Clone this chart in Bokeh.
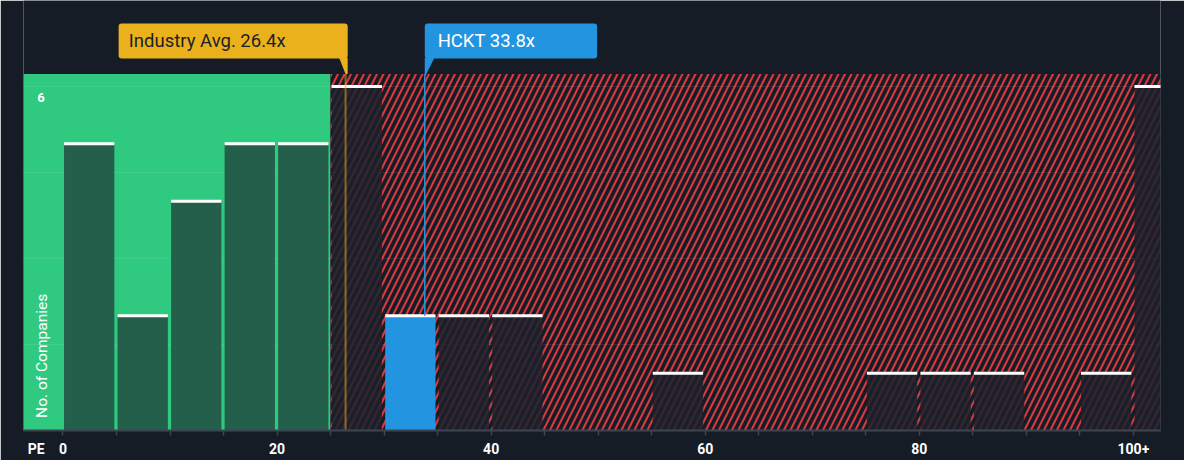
from bokeh.plotting import figure
from bokeh.models import FixedTicker, LinearAxis, Range1d
from bokeh.core.properties import value
from bokeh.embed import file_html
from bokeh.resources import INLINE

# ---- data ----
bin_left = [0, 5, 10, 15, 20, 25, 30, 35, 40, 45, 50, 55, 60, 65, 70, 75, 80, 85, 90, 95, 100]
counts = [5, 2, 4, 5, 5, 6, 2, 2, 2, 0, 0, 1, 0, 0, 0, 1, 1, 1, 0, 1, 6]
bin_width = 5
industry_avg = 26.4
company = "HCKT"
company_pe = 33.8
fair_limit = 25
tick_values = list(range(0, 105, 5))
label_values = [-2.5, 0, 20, 40, 60, 80, 100]
tick_labels = {-2.5: "PE", 0: "0", 20: "20", 40: "40", 60: "60", 80: "80", 100: "100+"}
y_max_label = 6
grid_values = [1.5, 3, 4.5, 6]

BG = "#161c26"
GREEN = "#2fca7f"
RED = "#d6393e"
BLUE = "#2394df"
YELLOW = "#ebb11c"
FONT = "Roboto"

x0, x1 = -3.687, 102.53
y0, y1 = 0, 7.50
region_top = 6.22

p = figure(frame_width=1137, frame_height=430,
           x_range=Range1d(x0, x1), y_range=Range1d(y0, y1),
           x_axis_location=None, y_axis_location=None,
           output_backend="svg", toolbar_location=None,
           min_border_left=23, min_border_right=24, min_border_top=0, min_border_bottom=30,
           background_fill_color=BG, border_fill_color=BG, outline_line_color=None)
p.grid.visible = False

# regions
p.quad(left=[x0], right=[fair_limit], bottom=[0], top=[region_top], fill_color=GREEN, line_color=None)
p.quad(left=[fair_limit], right=[x1], bottom=[0], top=[region_top], fill_color=BG, line_color=None,
       hatch_pattern="/", hatch_color=RED, hatch_weight=2.1, hatch_scale=13)

# grid lines
for g in grid_values:
    p.segment(x0=[x0], x1=[x1], y0=[g], y1=[g], line_color="white", line_alpha=0.09, line_width=1)

# bars
green_l, green_r, green_t = [], [], []
dark_l, dark_r, dark_t = [], [], []
blue_l, blue_r, blue_t = [], [], []
for b, c in zip(bin_left, counts):
    if c == 0:
        continue
    l, r = b + 0.1, b + bin_width - 0.2
    if b + bin_width <= fair_limit:
        green_l.append(l); green_r.append(r); green_t.append(c)
    elif b <= company_pe < b + bin_width:
        blue_l.append(l); blue_r.append(r); blue_t.append(c)
    else:
        dark_l.append(l); dark_r.append(r); dark_t.append(c)

p.quad(left=green_l, right=green_r, bottom=0, top=green_t, fill_color="#235f4a", line_color=None)
p.quad(left=dark_l, right=dark_r, bottom=0, top=dark_t, fill_color="#1c212c", fill_alpha=0.84, line_color=None)
p.quad(left=blue_l, right=blue_r, bottom=0, top=blue_t, fill_color=BLUE, line_color=None)
all_l = green_l + dark_l + blue_l
all_r = green_r + dark_r + blue_r
all_t = green_t + dark_t + blue_t
p.segment(x0=all_l, x1=all_r, y0=all_t, y1=all_t, line_color="white", line_width=3)

# marker lines
p.segment(x0=[industry_avg], x1=[industry_avg], y0=[0], y1=[region_top], line_color=YELLOW, line_alpha=0.5, line_width=2)
p.segment(x0=[company_pe], x1=[company_pe], y0=[counts[bin_left.index(30)]], y1=[region_top],
          line_color=BLUE, line_width=1.5)

# callouts
box_b, box_t = 6.49, 7.10
ind_w = 21.4
p.quad(left=[industry_avg + 0.2 - ind_w], right=[industry_avg + 0.2], bottom=[box_b], top=[box_t],
       fill_color=YELLOW, line_color=None, border_radius=3)
p.patch(x=[industry_avg - 0.6, industry_avg + 0.2, industry_avg + 0.2, industry_avg],
        y=[box_b + 0.01, box_b + 0.01, region_top, region_top], fill_color=YELLOW, line_color=None)
p.text(x=[industry_avg + 0.2 - ind_w + 0.95], y=[(box_b + box_t) / 2], text=[f"Industry Avg. {industry_avg}x"],
       text_font=value(FONT), text_font_size="18.5px", text_color="#1b1f27", text_baseline="middle")

hc_w = 16.1
p.quad(left=[company_pe], right=[company_pe + hc_w], bottom=[box_b], top=[box_t],
       fill_color=BLUE, line_color=None, border_radius=3)
p.patch(x=[company_pe, company_pe + 0.9, company_pe + 0.1, company_pe],
        y=[box_b + 0.01, box_b + 0.01, region_top - 0.02, region_top - 0.02], fill_color=BLUE, line_color=None)
p.text(x=[company_pe + 1.2], y=[(box_b + box_t) / 2], text=[f"{company} {company_pe}x"],
       text_font=value(FONT), text_font_size="18.5px", text_color="white", text_baseline="middle")

# y labels
p.text(x=[-2.40], y=[5.81], text=[str(y_max_label)], text_font=value(FONT),
       text_font_size="13px", text_font_style="bold", text_color="white", text_baseline="middle")
p.text(x=[-1.94], y=[0.22], text=["No. of Companies"], angle=1.5708, text_font=value(FONT),
       text_font_size="15.5px", text_color="white", text_baseline="middle", text_align="left")

# x axis: tick marks + line
ax = LinearAxis(ticker=FixedTicker(ticks=tick_values))
ax.major_label_overrides = {t: "" for t in tick_values}
ax.major_label_text_font_size = "0px"
ax.major_label_standoff = 0
ax.axis_line_color = "#3e4552"
ax.axis_line_width = 2
ax.major_tick_line_color = "#3e4552"
ax.major_tick_line_width = 1.5
ax.major_tick_out = 5
ax.major_tick_in = 0
ax.minor_tick_line_color = None
p.add_layout(ax, "below")

# x axis: labels
lx = LinearAxis(ticker=FixedTicker(ticks=label_values))
lx.major_label_overrides = tick_labels
lx.axis_line_color = None
lx.major_tick_line_color = None
lx.minor_tick_line_color = None
lx.major_tick_out = 0
lx.major_tick_in = 0
lx.major_label_text_color = "white"
lx.major_label_text_font = FONT
lx.major_label_text_font_style = "bold"
lx.major_label_text_font_size = "14px"
lx.major_label_standoff = 5
p.add_layout(lx, "below")

open("out.html", "w").write(file_html(p, INLINE))
